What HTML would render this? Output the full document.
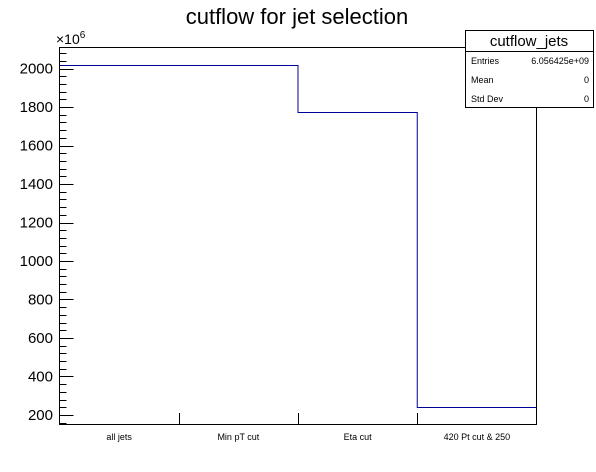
<!DOCTYPE html>
<html><head><meta charset="utf-8"><style>
body{margin:0;background:#fff;}
svg{display:block;font-family:"Liberation Sans",sans-serif;}
</style></head><body>
<svg id="c" width="596" height="472" viewBox="0 0 596 472">
<rect width="596" height="472" fill="#fff"/>
<text x="297" y="24" font-size="22" text-anchor="middle">cutflow for jet selection</text>
<g id="axes"></g>
<g id="marks"></g>
<rect x="59.5" y="47.5" width="477" height="377" fill="none" stroke="#000"/>
<g>
<rect x="465.5" y="30.5" width="128" height="77" fill="#fff" stroke="#000"/>
<line x1="465.5" y1="51.5" x2="593.5" y2="51.5" stroke="#000"/>
<text x="529" y="46" font-size="15" text-anchor="middle">cutflow_jets</text>
<text x="471" y="64" font-size="9">Entries</text>
<text x="589" y="64" font-size="9" text-anchor="end">6.056425e+09</text>
<text x="471" y="83" font-size="9">Mean</text>
<text x="589" y="83" font-size="9" text-anchor="end">0</text>
<text x="471" y="102" font-size="9">Std Dev</text>
<text x="589" y="102" font-size="9" text-anchor="end">0</text>
</g>
<text x="56" y="44" font-size="14">×10<tspan dy="-6" font-size="10">6</tspan></text>
</svg>
<script>
const categories = ["all jets","Min pT cut","Eta cut","420 Pt cut & 250"];
const values = [2018,2018,1774,242];
const yTicks = [200,400,600,800,1000,1200,1400,1600,1800,2000];
const yMin = 153, yMax = 2112;
const X0 = 59.5, X1 = 536.5, Y0 = 424, Y1 = 47;
const NS = "http://www.w3.org/2000/svg";
function yS(v){ return Y0 - (v - yMin) / (yMax - yMin) * (Y0 - Y1); }
function xS(i){ return X0 + i * (X1 - X0) / categories.length; }
const axes = document.getElementById('axes'), marks = document.getElementById('marks');
function mk(tag, attrs, parent){ const e = document.createElementNS(NS, tag); for (const k in attrs) e.setAttribute(k, attrs[k]); parent.appendChild(e); return e; }
for (let v = 160; v <= yMax; v += 40) {
  const y = Math.round(yS(v)) + 0.5;
  const major = v % 200 === 0;
  const t = mk('line', {x1: X0, x2: X0 + (major ? 14 : 7), y1: y, y2: y, stroke: '#000'}, axes);
  
  
}
yTicks.forEach(v => {
  const t = mk('text', {x: 53, y: yS(v) + 5, 'font-size': 15, 'text-anchor': 'end'}, axes);
  t.textContent = v;
  
  
});
categories.forEach((c, i) => {
  if (i > 0) {
    const x = Math.round(xS(i)) + 0.5;
    const t = mk('line', {x1: x, x2: x, y1: Y0, y2: Y0 - 11, stroke: '#000'}, axes);
    
    
  }
  const l = mk('text', {x: (xS(i) + xS(i + 1)) / 2, y: 440, 'font-size': 9, 'text-anchor': 'middle'}, axes);
  l.textContent = c;
  
  
});
let d = '';
values.forEach((v, i) => {
  const y = Math.round(yS(v)) + 0.5;
  d += (i === 0 ? 'M' : 'L') + xS(i) + ' ' + y + ' L' + xS(i + 1) + ' ' + y + ' ';
});
const p = mk('path', {d: d, fill: 'none', stroke: '#000099', 'stroke-width': 1}, marks);


</script>
</body></html>
